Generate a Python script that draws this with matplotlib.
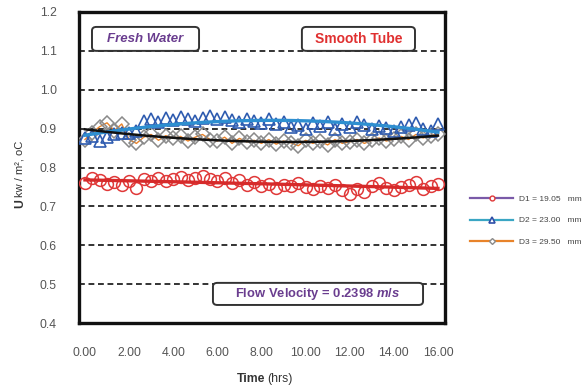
import numpy as np
import matplotlib
matplotlib.use("Agg")
import matplotlib.pyplot as plt
from matplotlib.lines import Line2D
from matplotlib.patches import FancyBboxPatch

plt.rcParams['font.family'] = ['Liberation Sans', 'DejaVu Sans']
plt.rcParams['mathtext.fontset'] = 'custom'
plt.rcParams['mathtext.it'] = 'Liberation Sans:italic:bold'
plt.rcParams['mathtext.rm'] = 'Liberation Sans:bold'

# Time in hours, sampled every 20 minutes
time_hrs = np.round(np.arange(0, 49) / 3.0, 3)

d1_u = [0.760, 0.772, 0.768, 0.758, 0.762, 0.755, 0.765, 0.748, 0.770, 0.766,
        0.772, 0.764, 0.770, 0.775, 0.768, 0.772, 0.778, 0.770, 0.765, 0.772,
        0.760, 0.768, 0.756, 0.762, 0.752, 0.758, 0.748, 0.755, 0.752, 0.760,
        0.750, 0.745, 0.752, 0.748, 0.755, 0.742, 0.732, 0.745, 0.738, 0.752,
        0.760, 0.748, 0.742, 0.750, 0.755, 0.762, 0.745, 0.752, 0.758]

d2_u = [0.875, 0.880, 0.868, 0.878, 0.885, 0.890, 0.888, 0.895, 0.920, 0.925,
        0.918, 0.928, 0.922, 0.930, 0.925, 0.920, 0.928, 0.932, 0.925, 0.930,
        0.922, 0.918, 0.925, 0.920, 0.915, 0.925, 0.912, 0.918, 0.905, 0.910,
        0.898, 0.915, 0.908, 0.918, 0.900, 0.912, 0.905, 0.918, 0.910, 0.898,
        0.908, 0.902, 0.895, 0.905, 0.910, 0.915, 0.900, 0.895, 0.912]

d3_u = [0.872, 0.890, 0.905, 0.915, 0.895, 0.912, 0.872, 0.862, 0.878, 0.885,
        0.870, 0.882, 0.875, 0.880, 0.868, 0.878, 0.885, 0.872, 0.868, 0.878,
        0.862, 0.875, 0.866, 0.870, 0.862, 0.872, 0.860, 0.868, 0.864, 0.856,
        0.870, 0.862, 0.868, 0.858, 0.872, 0.862, 0.866, 0.872, 0.862, 0.870,
        0.876, 0.868, 0.874, 0.880, 0.872, 0.885, 0.876, 0.882, 0.886]

series_labels = ["D1 = 19.05   mm", "D2 = 23.00   mm", "D3 = 29.50   mm"]
x_ticks = [0, 2, 4, 6, 8, 10, 12, 14, 16]
y_ticks = [0.4, 0.5, 0.6, 0.7, 0.8, 0.9, 1.0, 1.1, 1.2]

W, H = 586, 392
fig = plt.figure(figsize=(W / 100, H / 100), dpi=100)
ax = fig.add_axes([79 / W, 1 - 323 / H, 366 / W, 311 / H])

ax.set_xlim(-0.27, 16.32)
ax.set_ylim(0.4, 1.2)

# dashed horizontal grid
for yv in y_ticks[1:-1]:
    ax.axhline(yv, color='#111111', lw=1.2, ls=(0, (3.5, 2.2)), zorder=1)

t = np.asarray(time_hrs)
tt = np.linspace(0, 16, 200)

# D3: orange line with grey diamonds
ax.plot(t, d3_u, color='#e8832a', lw=1.0, zorder=2)
ax.plot(t, d3_u, ls='none', marker='D', ms=7.2, mfc='none', mec='#8a8a8a',
        mew=1.1, zorder=3)
# D2: blue triangles
ax.plot(t, d2_u, ls='none', marker='^', ms=9, mfc='none', mec='#2f5cb0',
        mew=1.2, zorder=3)
# D1: red circles
ax.plot(t, d1_u, ls='none', marker='o', ms=8.5, mfc='none', mec='#e03838',
        mew=1.1, zorder=3)

# polynomial trend lines
fit1 = np.polyval(np.polyfit(t, d1_u, 2), tt)
fit2 = np.polyval(np.polyfit(t, d2_u, 2), tt)
fit3 = np.polyval(np.polyfit(t, d3_u, 2), tt)
ax.plot(tt, fit2, color='#2e8fd0', lw=2.4, zorder=4)
ax.plot(tt, fit3, color='#111111', lw=1.8, zorder=4)
ax.plot(tt, fit1, color='#d62a2a', lw=2.4, zorder=4)

for s in ax.spines.values():
    s.set_linewidth(2.4)
    s.set_color('#111111')

ax.set_xticks(x_ticks)
ax.set_xticklabels([f"{v:.2f}" for v in x_ticks])
ax.set_yticks(y_ticks)
ax.set_yticklabels([f"{v:.1f}" for v in y_ticks])
ax.tick_params(axis='both', length=0, labelsize=8.8, colors='#555555')
ax.tick_params(axis='x', pad=17)
ax.tick_params(axis='y', pad=16)


def label_box(x0, y0, x1, y1):
    box = FancyBboxPatch((x0, y0), x1 - x0, y1 - y0,
                         boxstyle="round,pad=0,rounding_size=0.012",
                         transform=ax.transAxes, facecolor='white',
                         edgecolor='#333333', lw=1.4, zorder=5)
    ax.add_patch(box)


label_box(0.0355, 0.875, 0.328, 0.952)
ax.text(0.182, 0.913, "Fresh Water", transform=ax.transAxes, ha='center',
        va='center', color='#6a3d8f', fontsize=9.5, fontweight='bold',
        fontstyle='italic', zorder=6)

label_box(0.609, 0.875, 0.918, 0.952)
ax.text(0.7635, 0.913, "Smooth Tube", transform=ax.transAxes, ha='center',
        va='center', color='#e03030', fontsize=10, fontweight='bold', zorder=6)

label_box(0.366, 0.058, 0.94, 0.129)
ax.text(0.653, 0.093, r"Flow Velocity = 0.2398 $m/s$", transform=ax.transAxes,
        ha='center', va='center', color='#6a3d8f', fontsize=9.4,
        fontweight='bold', zorder=6)

# axis titles
fig.text(265 / W, 1 - 379 / H, "Time", ha='right', va='center',
         fontsize=8.8, fontweight='bold', color='#333333')
fig.text(267 / W, 1 - 379 / H, "(hrs)", ha='left', va='center',
         fontsize=8.8, color='#333333')
fig.text(20 / W, 1 - 204 / H, "U", rotation=90, ha='center', va='center',
         fontsize=8.8, fontweight='bold', color='#333333')
fig.text(20 / W, 1 - 197 / H, "kw / m², oC", rotation=90, ha='center',
         va='bottom', fontsize=8, color='#333333')

# legend outside the plot area
handles = [
    Line2D([], [], color='#7a5aa8', lw=1.6, marker='o', ms=3.5,
           mfc='white', mec='#e03838', mew=1),
    Line2D([], [], color='#3aa6c4', lw=1.6, marker='^', ms=4,
           mfc='white', mec='#2f4fa8', mew=1.2),
    Line2D([], [], color='#e8832a', lw=1.6, marker='D', ms=3,
           mfc='white', mec='#8a8a8a', mew=1),
]
fig.legend(handles, series_labels, loc='upper left',
           bbox_to_anchor=(470 / W, 1 - 195 / H), frameon=False,
           fontsize=6, handlelength=5.2, handletextpad=0.7,
           labelspacing=1.65, borderpad=0, borderaxespad=0,
           labelcolor='#444444')

fig.savefig("out.png", dpi=100)
